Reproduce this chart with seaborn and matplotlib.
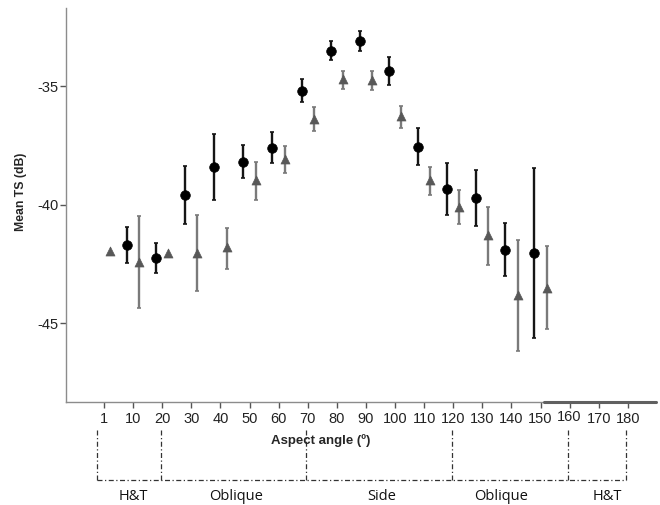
import numpy as np
import pandas as pd
import matplotlib
matplotlib.use("Agg")
import matplotlib.pyplot as plt
import seaborn as sns

# aspect angle categories on the x axis
angle_labels = ["1", "10", "20", "30", "40", "50", "60", "70", "80", "90",
                "100", "110", "120", "130", "140", "150", "160", "170", "180"]

# group 1 (black circles): mean TS and 95% CI bounds
circle_angle = ["10", "20", "30", "40", "50", "60", "70", "80", "90",
                "100", "110", "120", "130", "140", "150"]
circle_mean = [-41.70, -42.27, -39.60, -38.40, -38.19, -37.60, -35.20, -33.51, -33.09,
               -34.37, -37.56, -39.33, -39.73, -41.91, -42.05]
circle_low = [-42.48, -42.90, -40.81, -39.81, -38.87, -38.26, -35.69, -33.92, -33.51,
              -34.96, -38.33, -40.43, -40.89, -43.02, -45.65]
circle_high = [-40.94, -41.61, -38.36, -37.03, -37.50, -36.95, -34.69, -33.11, -32.67,
               -33.79, -36.78, -38.24, -38.56, -40.77, -38.47]

# group 2 (grey triangles), no bar drawn for 1 and 20
tri_angle = ["1", "10", "20", "30", "40", "50", "60", "70", "80", "90",
             "100", "110", "120", "130", "140", "150"]
tri_mean = [-41.95, -42.41, -42.03, -42.03, -41.81, -38.97, -38.09, -36.39, -34.72, -34.76,
            -36.28, -38.98, -40.11, -41.30, -43.82, -43.51]
tri_low = [np.nan, -44.35, np.nan, -43.65, -42.73, -39.81, -38.67, -36.91, -35.11, -35.18,
           -36.77, -39.59, -40.81, -42.57, -46.17, -45.27]
tri_high = [np.nan, -40.49, np.nan, -40.44, -40.98, -38.19, -37.53, -35.87, -34.35, -34.38,
            -35.84, -38.40, -39.40, -40.09, -41.50, -41.75]

# regions drawn under the axis
region_names = ["H&T", "Oblique", "Side", "Oblique", "H&T"]
region_edges = ["1", "20", "70", "120", "160", "180"]

sns.set_style("ticks")
plt.rcParams["font.family"] = ["Liberation Sans", "DejaVu Sans"]

pos = {lab: i for i, lab in enumerate(angle_labels)}
off = 0.21

circ = pd.DataFrame({"x": [pos[a] - off for a in circle_angle], "mean": circle_mean,
                     "low": circle_low, "high": circle_high})
tri = pd.DataFrame({"x": [pos[a] + off for a in tri_angle], "mean": tri_mean,
                    "low": tri_low, "high": tri_high})

fig = plt.figure(figsize=(6.6, 5.05), dpi=100)
ax = fig.add_axes([0.1, 0.204, 0.894, 0.78])

# error bars
ax.errorbar(circ["x"], circ["mean"], yerr=[circ["mean"] - circ["low"], circ["high"] - circ["mean"]],
            fmt="none", ecolor="#151515", elinewidth=1.7, capsize=1.6, capthick=1.2, zorder=2)
tb = tri.dropna()
ax.errorbar(tb["x"], tb["mean"], yerr=[tb["mean"] - tb["low"], tb["high"] - tb["mean"]],
            fmt="none", ecolor="#7a7a7a", elinewidth=1.7, capsize=1.6, capthick=1.2, zorder=2)

sns.scatterplot(data=circ, x="x", y="mean", marker="o", s=48, color="black",
                edgecolor="black", linewidth=0.5, ax=ax, zorder=3)
sns.scatterplot(data=tri, x="x", y="mean", marker="^", s=42, color="#585858",
                edgecolor="#585858", linewidth=0.5, ax=ax, zorder=3)

ax.set_xlim(-1.306, 18.97)
ax.set_ylim(-48.33, -31.71)
ax.set_xticks(range(len(angle_labels)))
ax.set_xticklabels(angle_labels)
ax.set_yticks([-45, -40, -35])
ax.set_yticklabels(["-45", "-40", "-35"])
ax.tick_params(axis="both", labelsize=10.5, colors="#222222", length=4.5, width=1)
ax.tick_params(axis="x", pad=3, color="#555555")
ax.tick_params(axis="y", pad=1, color="#555555")
# the "160" label sits a little higher in the original
for t in ax.get_xticklabels():
    if t.get_text() == "160":
        t.set_y(0.006)
ax.set_xlabel("")
ax.set_ylabel("Mean TS (dB)", fontsize=8.8, fontweight="bold")
ax.yaxis.set_label_coords(-0.066, 0.533)

for side in ["top", "right"]:
    ax.spines[side].set_visible(False)
for side in ["left", "bottom"]:
    ax.spines[side].set_color("#8c8c8c")
    ax.spines[side].set_linewidth(1.0)

trans = ax.get_xaxis_transform()
# darker overlay segment on the right end of the x axis
ax.plot([15.12, 18.97], [0, 0], color="#606060", lw=2.2, transform=trans, clip_on=False, zorder=4)

ax.text(0.432, -0.097, "Aspect angle (º)", transform=ax.transAxes, ha="center", va="center",
        fontsize=9.5, fontweight="bold")

# dash-dot brackets for the angle regions
edge_x = [pos[e] for e in region_edges]
edge_x[0] = -0.2
edge_x = [x - 0.05 for x in edge_x]
dd = (0, (4, 2, 1, 2))
for x in edge_x:
    ax.plot([x, x], [-0.071, -0.198], color="#333333", lw=0.9, ls=dd, transform=trans, clip_on=False)
ax.plot([edge_x[0], edge_x[-1]], [-0.198, -0.198], color="#333333", lw=0.9, ls=dd,
        transform=trans, clip_on=False)
label_x = [1.0, 4.55, 9.55, 13.65, 17.3]
for name, x in zip(region_names, label_x):
    ax.text(x, -0.24, name, transform=trans, ha="center", va="center", fontsize=10.5,
            family=["Open Sans", "DejaVu Sans"], color="#111111")

fig.savefig("out.png", dpi=100)
